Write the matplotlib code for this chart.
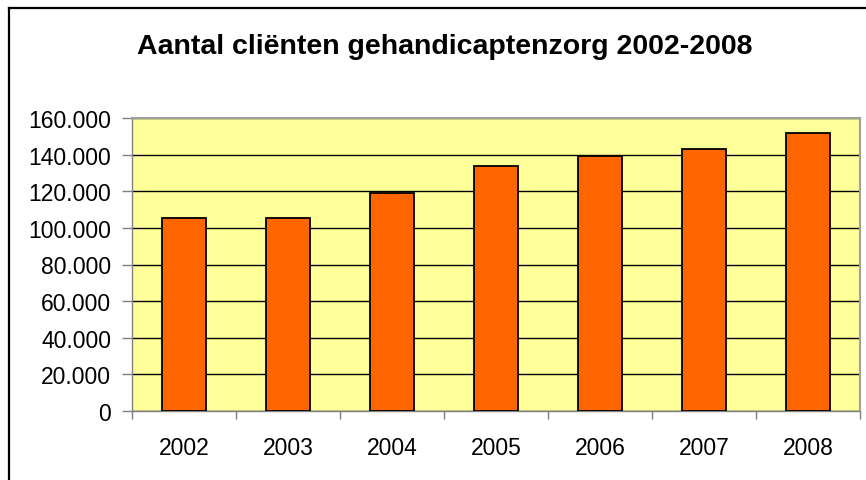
import matplotlib
matplotlib.use("Agg")
import matplotlib.pyplot as plt
from matplotlib.ticker import FuncFormatter, FixedLocator
from matplotlib.lines import Line2D

plt.rcParams["font.family"] = ["Liberation Sans", "DejaVu Sans"]

years = ["2002", "2003", "2004", "2005", "2006", "2007", "2008"]
clients = [105600, 105600, 119300, 134100, 139200, 143000, 152000]
yticks = [0, 20000, 40000, 60000, 80000, 100000, 120000, 140000, 160000]


def dutch(v, pos=None):
	return f"{int(v):,}".replace(",", ".")


fig = plt.figure(figsize=(8.66, 4.81), dpi=100)
ax = fig.add_axes([132 / 866, 1 - 411.7 / 481, 728 / 866, 292.4 / 481])
ax.set_facecolor("#FFFF99")

x = range(len(years))
ax.bar(x, clients, width=0.417, color="#FF6600", edgecolor="black", linewidth=1.3, zorder=3)

ax.set_xlim(-0.5, len(years) - 0.5)
ax.set_ylim(0, 160000)
ax.set_yticks(yticks)
ax.yaxis.set_major_formatter(FuncFormatter(dutch))
ax.yaxis.grid(True, color="black", linewidth=1.0, zorder=1)
ax.set_axisbelow(True)

ax.set_xticks(list(x))
ax.set_xticklabels(years)
ax.xaxis.set_minor_locator(FixedLocator([i - 0.5 for i in range(len(years) + 1)]))
ax.tick_params(axis="x", which="major", length=0, pad=18, labelsize=16.5)
ax.tick_params(axis="x", which="minor", length=6, width=1, color="#808080")
ax.tick_params(axis="y", length=7, width=1, color="#808080", labelsize=16.5, pad=8)

for side in ["top", "right"]:
	ax.spines[side].set_color("#A0A0A0")
	ax.spines[side].set_linewidth(1.5)
for side in ["left", "bottom"]:
	ax.spines[side].set_color("#808080")
	ax.spines[side].set_linewidth(1.0)

fig.text(445 / 866, 1 - 47 / 481, "Aantal cliënten gehandicaptenzorg 2002-2008",
	ha="center", va="center", fontsize=20.5, fontweight="bold")

# chart frame, only top and left visible
fig.add_artist(Line2D([9 / 866, 9 / 866], [0, 1 - 9 / 481], transform=fig.transFigure, color="black", linewidth=1.6))
fig.add_artist(Line2D([9 / 866, 1], [1 - 9 / 481, 1 - 9 / 481], transform=fig.transFigure, color="black", linewidth=1.6))

fig.savefig("out.png", dpi=100)
